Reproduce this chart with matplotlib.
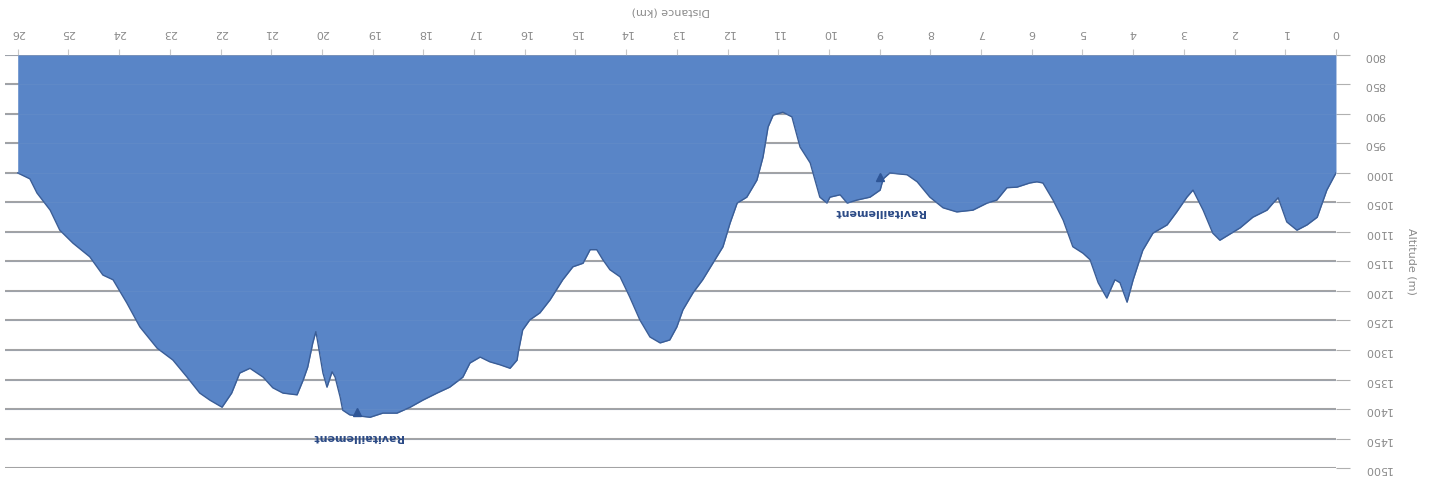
import numpy as np
import matplotlib.pyplot as plt

# profile (km, altitude m)
distance_km = [0.00, 0.18, 0.37, 0.57, 0.77, 0.97, 1.14, 1.24, 1.36, 1.64, 1.89, 2.29, 2.43,
               2.62, 2.82, 2.94, 3.14, 3.33, 3.61, 3.81, 4.00, 4.12, 4.26, 4.36, 4.52, 4.69,
               4.85, 4.99, 5.19, 5.38, 5.58, 5.78, 5.90, 6.04, 6.29, 6.49, 6.69, 6.88, 7.16,
               7.48, 7.75, 8.01, 8.26, 8.46, 8.80, 8.93, 8.99, 9.19, 9.45, 9.64, 9.78, 9.98,
               10.04, 10.18, 10.37, 10.57, 10.73, 10.91, 11.10, 11.20, 11.30, 11.42, 11.62,
               11.81, 11.95, 12.09, 12.29, 12.49, 12.68, 12.88, 13.00, 13.14, 13.33, 13.53,
               13.73, 13.93, 14.12, 14.32, 14.46, 14.58, 14.71, 14.85, 15.05, 15.25, 15.50,
               15.70, 15.90, 16.04, 16.13, 16.15, 16.29, 16.49, 16.69, 16.88, 17.08, 17.22,
               17.48, 17.73, 18.01, 18.26, 18.52, 18.80, 19.05, 19.45, 19.59, 19.64, 19.74,
               19.80, 19.90, 19.98, 20.08, 20.12, 20.18, 20.28, 20.37, 20.49, 20.77, 20.97,
               21.16, 21.42, 21.62, 21.78, 21.97, 22.21, 22.41, 22.66, 22.94, 23.25, 23.59,
               23.85, 24.12, 24.32, 24.58, 24.91, 25.17, 25.36, 25.62, 25.76, 26.00]
altitude_m = [1000, 1029, 1075, 1088, 1097, 1083, 1042, 1051, 1063, 1075, 1093, 1114, 1102,
              1063, 1029, 1041, 1066, 1088, 1102, 1131, 1181, 1219, 1186, 1181, 1212, 1186,
              1147, 1136, 1125, 1080, 1046, 1017, 1015, 1017, 1024, 1025, 1046, 1051, 1063,
              1066, 1059, 1041, 1015, 1003, 1000, 1010, 1029, 1041, 1046, 1051, 1037, 1041,
              1051, 1041, 983, 956, 905, 897, 902, 922, 973, 1012, 1041,
              1051, 1085, 1125, 1153, 1181, 1203, 1232, 1261, 1283, 1288, 1278,
              1249, 1210, 1176, 1164, 1147, 1130, 1130, 1153, 1159, 1181, 1215,
              1237, 1249, 1266, 1305, 1317, 1331, 1325, 1320, 1312, 1322, 1346,
              1363, 1373, 1385, 1397, 1407, 1407, 1414, 1410, 1402, 1380, 1346,
              1337, 1363, 1339, 1288, 1269, 1288, 1329, 1351, 1376, 1373, 1364,
              1346, 1331, 1339, 1373, 1397, 1385, 1373, 1346, 1317, 1297, 1261,
              1220, 1181, 1173, 1142, 1119, 1097, 1063, 1034, 1010, 1000]

ravito_km = [9.0, 19.3]
ravito_alt = [1006, 1405]
ravito_label_alt = [1066, 1447]
ravito_text = "Ravitaillement"

x_ticks = list(range(0, 27))
y_ticks = list(range(800, 1501, 50))

fig = plt.figure(figsize=(14.39, 4.95), dpi=100)
ax = fig.add_axes([0.0035, 0.0545, 0.9249, 0.8345])

# the scan is upside down: both axes inverted, text turned 180 degrees
ax.set_xlim(26.25, 0)
ax.set_ylim(1500, 800)

for yv in y_ticks:
    ax.axhline(yv, color="#a4a4a4", lw=1.5, zorder=1)

ax.fill_between(distance_km, altitude_m, 800, color="#5985c7", lw=0, zorder=2)
ax.plot(distance_km, altitude_m, color="#3a5d96", lw=1.0, zorder=3)
for yv in y_ticks:
    ax.axhline(yv, color="#7f9cc8", lw=0.8, alpha=0.18, zorder=3)

ax.plot(ravito_km, ravito_alt, ls="none", marker="^", ms=6, color="#2e5596", zorder=4)
for km, ya in zip(ravito_km, ravito_label_alt):
    ax.text(km, ya, ravito_text, rotation=180, ha="center", va="center",
            fontsize=8, fontweight="bold", color="#2b4a86", zorder=5)

for s in ax.spines.values():
    s.set_visible(False)

ax.xaxis.tick_top()
ax.xaxis.set_label_position("top")
ax.set_xticks(x_ticks)
ax.set_xticklabels([str(v) for v in x_ticks], rotation=180)
ax.tick_params(axis="x", colors="#c8c8c8", length=4, labelcolor="#8a8a8a", labelsize=8, pad=8)

ax.yaxis.tick_right()
ax.yaxis.set_label_position("right")
ax.set_yticks(y_ticks)
ax.set_yticklabels([str(v) for v in y_ticks], rotation=180)
ax.tick_params(axis="y", colors="#b0b0b0", length=10, labelcolor="#8a8a8a", labelsize=8, pad=10)

ax.set_xlabel("Distance (km)", rotation=180, fontsize=8, color="#8a8a8a", labelpad=10)
ax.set_ylabel("Altitude (m)", rotation=270, fontsize=8, color="#8a8a8a", labelpad=18)

fig.savefig("out.png", dpi=100)
